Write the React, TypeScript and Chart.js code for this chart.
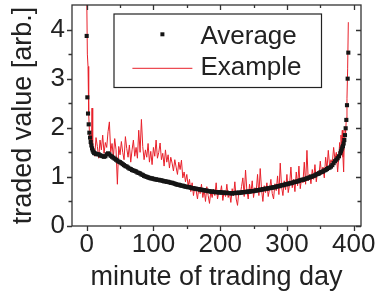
import React, { useEffect, useRef } from "react";
import { Chart, registerables } from "chart.js";

Chart.register(...registerables);

const FONT = "'Liberation Sans', Arial, Helvetica, sans-serif";
const TEXT_COLOR = "#222222";
const RED = "#e8202a";

// Axis tick values (major + minor)
const xTickMarks = [0, 50, 100, 150, 200, 250, 300, 350, 400];
const yTickMarks = [0, 0.5, 1, 1.5, 2, 2.5, 3, 3.5, 4];

const seriesNames = ["Average", "Example"];

// ---- Average (black squares) ----
const avgMinutesStart = [0, 1, 2, 3, 4, 5, 6, 7, 8, 9, 10, 11, 12];
const avgValuesStart = [3.87, 2.62, 2.29, 2.07, 1.9, 1.8, 1.71, 1.64, 1.58, 1.54, 1.51, 1.49, 1.48];

const avgMinutesMid = [
  14, 16, 18, 20, 22, 24, 26, 28, 30, 32,
  34, 36, 38, 40, 42, 44, 46, 48, 50, 52,
  54, 56, 58, 60, 62, 64, 66, 68, 70, 72,
  74, 76, 78, 80, 82, 84, 86, 88, 90, 92,
  94, 96, 98, 100, 102, 104, 106, 108, 110, 112,
  114, 116, 118, 120, 122, 124, 126, 128, 130, 132,
  134, 136, 138, 140, 142, 144, 146, 148, 150, 152,
  154, 156, 158, 160, 162, 164, 166, 168, 170, 172,
  174, 176, 178, 180, 182, 184, 186, 188, 190, 192,
  194, 196, 198, 200, 202, 204, 206, 208, 210, 212,
  214, 216, 218, 220, 222, 224, 226, 228, 230, 232,
  234, 236, 238, 240, 242, 244, 246, 248, 250, 252,
  254, 256, 258, 260, 262, 264, 266, 268, 270, 272,
  274, 276, 278, 280, 282, 284, 286, 288, 290, 292,
  294, 296, 298, 300, 302, 304, 306, 308, 310, 312,
  314, 316, 318, 320, 322, 324, 326, 328, 330, 332,
  334, 336, 338, 340, 342, 344, 346, 348, 350, 352,
  354, 356, 358, 360, 362, 364, 366, 368, 370, 372,
  374, 376, 378, 380,
];
const avgValuesMid = [
  1.47, 1.46, 1.46, 1.44, 1.43, 1.42, 1.41, 1.42, 1.46, 1.48,
  1.46, 1.43, 1.41, 1.39, 1.37, 1.35, 1.33, 1.31, 1.3, 1.28,
  1.26, 1.24, 1.22, 1.21, 1.19, 1.17, 1.16, 1.14, 1.13, 1.12,
  1.11, 1.09, 1.08, 1.07, 1.05, 1.04, 1.02, 1.01, 1.0, 0.99,
  0.98, 0.97, 0.97, 0.96, 0.95, 0.95, 0.94, 0.94, 0.93, 0.93,
  0.92, 0.91, 0.91, 0.9, 0.9, 0.89, 0.88, 0.88, 0.87, 0.86,
  0.85, 0.84, 0.84, 0.83, 0.82, 0.82, 0.81, 0.8, 0.8, 0.79,
  0.79, 0.78, 0.77, 0.77, 0.76, 0.76, 0.75, 0.75, 0.74, 0.74,
  0.73, 0.73, 0.72, 0.72, 0.71, 0.71, 0.7, 0.7, 0.7, 0.69,
  0.69, 0.69, 0.68, 0.69, 0.68, 0.68, 0.68, 0.67, 0.68, 0.67,
  0.67, 0.67, 0.66, 0.67, 0.67, 0.68, 0.67, 0.68, 0.68, 0.68,
  0.69, 0.69, 0.69, 0.7, 0.7, 0.7, 0.71, 0.71, 0.71, 0.72,
  0.72, 0.73, 0.73, 0.74, 0.74, 0.75, 0.75, 0.76, 0.76, 0.77,
  0.77, 0.78, 0.78, 0.79, 0.79, 0.8, 0.81, 0.81, 0.82, 0.83,
  0.83, 0.84, 0.85, 0.85, 0.86, 0.87, 0.87, 0.88, 0.89, 0.9,
  0.9, 0.91, 0.92, 0.93, 0.94, 0.94, 0.95, 0.96, 0.97, 0.98,
  0.99, 1.0, 1.01, 1.02, 1.03, 1.05, 1.06, 1.07, 1.09, 1.1,
  1.11, 1.13, 1.14, 1.16, 1.18, 1.19, 1.21, 1.24, 1.28, 1.32,
  1.35, 1.38, 1.42, 1.48,
];

const avgMinutesEnd = [381, 382, 383, 384, 385, 386, 387, 388, 389, 390, 391, 392];
const avgValuesEnd = [1.52, 1.56, 1.6, 1.63, 1.68, 1.75, 1.85, 1.99, 2.16, 2.46, 3.0, 3.53];

// ---- Example (red line) ----
const redMinutesStart = [0, 1, 2, 3, 4, 5, 6, 7, 8, 9];
const redValuesStart = [4.8, 3.5, 3.25, 2.3, 1.95, 1.65, 1.85, 1.55, 2.4, 1.5];

const redMinutesMid = [
  10, 12, 14, 16, 18, 20, 22, 24, 26, 28,
  30, 32, 34, 36, 38, 40, 42, 44, 46, 48,
  50, 52, 54, 56, 58, 60, 62, 64, 66, 68,
  70, 72, 74, 76, 78, 80, 82, 84, 86, 88,
  90, 92, 94, 96, 98, 100, 102, 104, 106, 108,
  110, 112, 114, 116, 118, 120, 122, 124, 126, 128,
  130, 132, 134, 136, 138, 140, 142, 144, 146, 148,
  150, 152, 154, 156, 158, 160, 162, 164, 166, 168,
  170, 172, 174, 176, 178, 180, 182, 184, 186, 188,
  190, 192, 194, 196, 198, 200, 202, 204, 206, 208,
  210, 212, 214, 216, 218, 220, 222, 224, 226, 228,
  230, 232, 234, 236, 238, 240, 242, 244, 246, 248,
  250, 252, 254, 256, 258, 260, 262, 264, 266, 268,
  270, 272, 274, 276, 278, 280, 282, 284, 286, 288,
  290, 292, 294, 296, 298, 300, 302, 304, 306, 308,
  310, 312, 314, 316, 318, 320, 322, 324, 326, 328,
  330, 332, 334, 336, 338, 340, 342, 344, 346, 348,
  350, 352, 354, 356, 358, 360, 362, 364, 366, 368,
  370, 372, 374, 376, 378,
];
const redValuesMid = [
  1.55, 1.42, 1.8, 1.62, 1.38, 1.75, 1.55, 1.85, 1.48, 1.7,
  1.6, 1.92, 2.12, 1.5, 1.68, 1.4, 1.78, 1.55, 0.85, 1.62,
  1.45, 1.72, 1.5, 1.35, 1.82, 1.58, 1.4, 1.65, 1.3, 1.55,
  1.75, 1.42, 1.6, 1.38, 1.95, 1.5, 2.17, 1.62, 1.35, 1.55,
  1.4, 1.68, 1.3, 1.52, 1.25, 1.6, 1.42, 1.75, 1.38, 1.5,
  1.69, 1.35, 1.48, 1.22, 1.55, 1.3, 1.45, 1.18, 1.4, 1.28,
  1.12, 1.35, 1.2, 1.05, 1.3, 1.15, 1.34, 0.98, 1.1, 0.9,
  1.05, 0.82, 0.95, 0.7, 0.88, 0.62, 0.8, 0.72, 0.55, 0.78,
  0.66, 0.85, 0.58, 0.74, 0.5, 0.8, 0.62, 0.46, 0.7, 0.58,
  0.75, 0.62, 0.88, 0.55, 0.7, 0.65, 0.82, 0.52, 0.72, 0.6,
  0.85, 0.58, 0.68, 0.48, 0.76, 0.62, 0.9, 0.55, 0.42, 0.7,
  0.63, 0.8, 0.98, 0.6, 1.14, 0.72, 0.55, 0.85, 0.66, 0.92,
  0.58, 0.78, 0.7, 1.05, 0.62, 1.17, 0.74, 0.5, 0.82, 0.68,
  0.88, 0.6, 0.75, 0.95, 0.66, 0.55, 0.86, 0.72, 1.02, 0.64,
  1.28, 0.8, 0.62, 0.92, 0.74, 1.05, 0.68, 0.85, 1.2, 0.78,
  0.95, 0.7, 1.1, 0.82, 1.22, 0.76, 0.98, 0.88, 1.3, 0.85,
  1.54, 0.92, 1.05, 0.86, 1.15, 0.95, 1.25, 0.9, 1.12, 1.02,
  1.32, 1.05, 1.2, 0.98, 1.4, 1.15, 1.54, 1.22, 1.35, 1.28,
  1.6, 1.35, 1.5, 1.1, 1.45,
];

const redMinutesEnd = [379, 380, 381, 382, 383, 384, 385, 386, 387, 388, 389, 390, 391, 392];
const redValuesEnd = [1.7, 1.55, 1.85, 1.62, 1.95, 1.4, 1.1, 1.8, 2.0, 1.9, 2.2, 2.6, 3.2, 4.15];

function toPoints(xs: number[], ys: number[]) {
  const n = Math.min(xs.length, ys.length);
  const out: { x: number; y: number }[] = [];
  for (let i = 0; i < n; i++) out.push({ x: xs[i], y: ys[i] });
  return out;
}

const framePlugin = {
  id: "frameAndLegend",
  afterDatasetsDraw(chart: any) {
    const { ctx, chartArea: ca, scales } = chart;
    const xs = scales.x;
    const ys = scales.y;
    ctx.save();
    ctx.strokeStyle = "#333333";
    ctx.lineWidth = 1.3;
    ctx.strokeRect(ca.left, ca.top, ca.right - ca.left, ca.bottom - ca.top);
    ctx.beginPath();
    for (const v of xTickMarks) {
      const px = Math.round(xs.getPixelForValue(v)) + 0.5;
      const len = v % 100 === 0 ? 5 : 3;
      ctx.moveTo(px, ca.bottom);
      ctx.lineTo(px, ca.bottom + len);
      ctx.moveTo(px, ca.top);
      ctx.lineTo(px, ca.top + len);
    }
    for (const v of yTickMarks) {
      const py = Math.round(ys.getPixelForValue(v)) + 0.5;
      const len = v % 1 === 0 ? 5 : 3.5;
      ctx.moveTo(ca.left, py);
      ctx.lineTo(ca.left - len, py);
      ctx.moveTo(ca.right, py);
      ctx.lineTo(ca.right - len, py);
    }
    ctx.stroke();

    // Legend box
    const bx = ca.left + 42;
    const by = ca.top + 9;
    const bw = 207.5;
    const bh = 73.5;
    ctx.fillStyle = "#ffffff";
    ctx.fillRect(bx, by, bw, bh);
    ctx.strokeStyle = "#222222";
    ctx.lineWidth = 1.2;
    ctx.strokeRect(bx, by, bw, bh);

    // Average marker
    ctx.fillStyle = "#151515";
    ctx.fillRect(bx + 48.4 - 2, by + 20.3 - 2, 4, 4);
    // Example line
    ctx.strokeStyle = RED;
    ctx.lineWidth = 1;
    ctx.beginPath();
    ctx.moveTo(bx + 18.4, by + 54.3);
    ctx.lineTo(bx + 78.4, by + 54.3);
    ctx.stroke();

    ctx.fillStyle = TEXT_COLOR;
    ctx.font = `26px ${FONT}`;
    ctx.textAlign = "left";
    ctx.textBaseline = "alphabetic";
    ctx.fillText(seriesNames[0], bx + 86.4, by + 30.3);
    ctx.fillText(seriesNames[1], bx + 86.4, by + 61);
    ctx.restore();
  },
};

export default function App() {
  const canvasRef = useRef<HTMLCanvasElement | null>(null);

  useEffect(() => {
    if (!canvasRef.current) return;
    const avgData = [
      ...toPoints(avgMinutesStart, avgValuesStart),
      ...toPoints(avgMinutesMid, avgValuesMid),
      ...toPoints(avgMinutesEnd, avgValuesEnd),
    ];
    const redData = [
      ...toPoints(redMinutesStart, redValuesStart),
      ...toPoints(redMinutesMid, redValuesMid),
      ...toPoints(redMinutesEnd, redValuesEnd),
    ];
    const chart = new Chart(canvasRef.current, {
      type: "scatter",
      data: {
        datasets: [
          {
            label: seriesNames[0],
            data: avgData,
            showLine: false,
            pointStyle: "rect",
            pointRadius: 2.9,
            pointBackgroundColor: "#151515",
            pointBorderWidth: 0,
            borderWidth: 0,
          },
          {
            label: seriesNames[1],
            data: redData,
            showLine: true,
            borderColor: RED,
            borderWidth: 1,
            pointRadius: 0,
            tension: 0,
          },
        ],
      },
      options: {
        responsive: false,
        animation: false,
        layout: { padding: { top: 5, right: 16, left: 0, bottom: 0 } },
        plugins: { legend: { display: false }, tooltip: { enabled: false } },
        scales: {
          x: {
            type: "linear",
            min: -22,
            max: 411,
            grid: { display: false, drawTicks: false },
            border: { display: false },
            ticks: {
              stepSize: 100,
              includeBounds: false,
              padding: 3,
              maxRotation: 0,
              autoSkip: false,
              color: TEXT_COLOR,
              font: { family: FONT, size: 26 },
            },
            title: {
              display: true,
              text: "minute of trading day",
              color: TEXT_COLOR,
              font: { family: FONT, size: 27 },
              padding: { top: 0, bottom: 1.5 },
            },
            afterFit: (s: any) => {
              s.height = 69;
              s.paddingLeft = 0;
              s.paddingRight = 0;
            },
          },
          y: {
            type: "linear",
            min: 0,
            max: 4.5,
            grid: { display: false, drawTicks: false },
            border: { display: false },
            ticks: {
              stepSize: 1,
              includeBounds: false,
              padding: 7,
              color: TEXT_COLOR,
              font: { family: FONT, size: 26 },
            },
            title: {
              display: true,
              text: "traded value [arb.]",
              color: TEXT_COLOR,
              font: { family: FONT, size: 27 },
              padding: { top: 7, bottom: 0 },
            },
            afterFit: (s: any) => {
              s.width = 72;
              s.paddingTop = 0;
              s.paddingBottom = 0;
            },
          },
        },
      },
      plugins: [framePlugin],
    });
    return () => chart.destroy();
  }, []);

  return (
    <div style={{ position: "absolute", left: 0, top: 0, width: 377, height: 295, background: "#fff" }}>
      <canvas ref={canvasRef} width={377} height={295} />
    </div>
  );
}
